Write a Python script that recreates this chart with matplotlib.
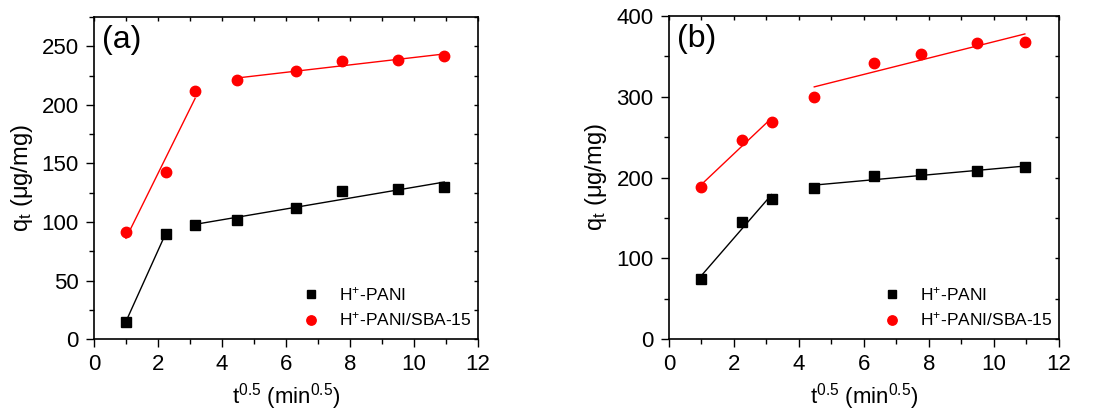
import numpy as np
import matplotlib
matplotlib.use("Agg")
import matplotlib.pyplot as plt
from matplotlib.ticker import MultipleLocator

plt.rcParams['font.family'] = ['Liberation Sans', 'DejaVu Sans']
plt.rcParams['mathtext.fontset'] = 'custom'
plt.rcParams['mathtext.rm'] = 'Liberation Sans'
plt.rcParams['mathtext.it'] = 'Liberation Sans'

# --------------------------
# data: t^0.5 (min^0.5)
t_sqrt = [1.0, 2.24, 3.16, 4.47, 6.32, 7.75, 9.49, 10.95]

# (a)
a_pani = [15, 90, 97, 102, 112, 126, 128, 130]
a_sba = [91, 143, 212, 221, 229, 237, 238, 242]
# (b)
b_pani = [75, 145, 174, 187, 202, 204, 208, 213]
b_sba = [188, 247, 269, 300, 342, 353, 367, 368]

# index ranges of the two linear regions for each series
a_pani_split = 2
a_sba_split = 3
b_pani_split = 3
b_sba_split = 3

labels = ['H$^{+}$-PANI', 'H$^{+}$-PANI/SBA-15']


def fit_segment(ax, x, y, color):
    x = np.asarray(x)
    y = np.asarray(y)
    k, b = np.polyfit(x, y, 1)
    xs = np.array([x.min(), x.max()])
    ax.plot(xs, k * xs + b, color=color, lw=1.0, zorder=1)


def draw_panel(ax, pani, sba, sp_pani, sp_sba, ylim, ymaj, ymin, tag):
    ax.plot(t_sqrt, pani, ls='none', marker='s', ms=7, color='black',
            label=labels[0], zorder=3)
    ax.plot(t_sqrt, sba, ls='none', marker='o', ms=7.5, color='red',
            mec='red', label=labels[1], zorder=3)
    fit_segment(ax, t_sqrt[:sp_pani], pani[:sp_pani], 'black')
    fit_segment(ax, t_sqrt[sp_pani:], pani[sp_pani:], 'black')
    fit_segment(ax, t_sqrt[:sp_sba], sba[:sp_sba], 'red')
    fit_segment(ax, t_sqrt[sp_sba:], sba[sp_sba:], 'red')

    ax.set_xlim(0, 12)
    ax.set_ylim(*ylim)
    ax.xaxis.set_major_locator(MultipleLocator(2))
    ax.xaxis.set_minor_locator(MultipleLocator(1))
    ax.yaxis.set_major_locator(MultipleLocator(ymaj))
    ax.yaxis.set_minor_locator(MultipleLocator(ymin))
    ax.tick_params(which='both', direction='out', labelsize=16,
                   width=1.0, pad=5)
    ax.tick_params(which='major', length=6)
    ax.tick_params(which='minor', length=3.5)
    for s in ax.spines.values():
        s.set_linewidth(1.2)

    ax.set_xlabel('t$^{0.5}$ (min$^{0.5}$)', fontsize=16, labelpad=4)
    ax.set_ylabel('q$_{t}$ ($\\mu$g/mg)', fontsize=17, labelpad=5)
    ax.text(0.02, 0.975, tag, transform=ax.transAxes, fontsize=23,
            ha='left', va='top')
    ax.legend(loc='lower right', frameon=False, fontsize=12.5,
              handletextpad=0.6, borderaxespad=0.2, labelspacing=0.45,
              markerscale=0.9, bbox_to_anchor=(1.01, 0.0))


fig = plt.figure(figsize=(11.03, 4.13), dpi=100)
ax1 = fig.add_axes([0.0852, 0.179, 0.348, 0.780])
ax2 = fig.add_axes([0.6065, 0.179, 0.3536, 0.782])

draw_panel(ax1, a_pani, a_sba, a_pani_split, a_sba_split, (0, 275), 50, 25, '(a)')
draw_panel(ax2, b_pani, b_sba, b_pani_split, b_sba_split, (0, 400), 100, 50, '(b)')

# inward, short ticks on top/right like the original
for ax in (ax1, ax2):
    ax.tick_params(which='both', top=True, right=True)
    ax.xaxis.set_tick_params(which='both', labeltop=False)
    ax.yaxis.set_tick_params(which='both', labelright=False)
    for t in ax.xaxis.get_major_ticks() + ax.xaxis.get_minor_ticks():
        t.tick2line.set_marker(matplotlib.lines.TICKDOWN)
        t.tick2line.set_markersize(3)
    for t in ax.yaxis.get_major_ticks() + ax.yaxis.get_minor_ticks():
        t.tick2line.set_marker(matplotlib.lines.TICKLEFT)
        t.tick2line.set_markersize(3)

fig.savefig('out.png', dpi=100)
